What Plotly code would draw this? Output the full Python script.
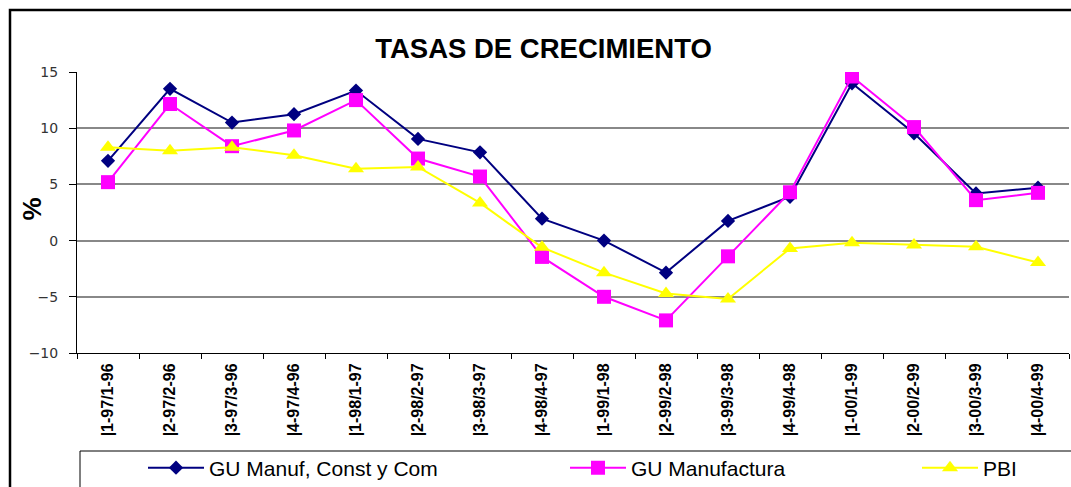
import plotly.graph_objects as go

categories = ["1-97/1-96", "2-97/2-96", "3-97/3-96", "4-97/4-96",
              "1-98/1-97", "2-98/2-97", "3-98/3-97", "4-98/4-97",
              "1-99/1-98", "2-99/2-98", "3-99/3-98", "4-99/4-98",
              "1-00/1-99", "2-00/2-99", "3-00/3-99", "4-00/4-99"]
tick_labels = ["|" + c for c in categories]

gu_manuf_const_com = [7.1, 13.5, 10.5, 11.25, 13.35, 9.05, 7.85, 1.95,
                      0.0, -2.85, 1.75, 3.9, 14.0, 9.55, 4.2, 4.7]
gu_manufactura = [5.2, 12.15, 8.4, 9.8, 12.5, 7.3, 5.7, -1.45,
                  -5.0, -7.1, -1.4, 4.3, 14.6, 10.1, 3.6, 4.25]
pbi = [8.3, 8.0, 8.3, 7.6, 6.4, 6.55, 3.35, -0.6,
       -2.85, -4.7, -5.2, -0.7, -0.2, -0.4, -0.55, -1.95]

series_names = ["GU Manuf, Const y Com", "GU Manufactura", "PBI"]

PL, PR, PT, PB = 77, 1069, 72, 353
W, H = 1071, 487


def px(x):
    return (x - PL) / (PR - PL)


def py(y):
    return (PB - y) / (PB - PT)


fig = go.Figure()
fig.add_trace(go.Scatter(
    x=categories, y=gu_manuf_const_com, name=series_names[0], mode="lines+markers",
    line=dict(color="#000080", width=2),
    marker=dict(symbol="diamond", size=11, color="#000080"),
    legend="legend2", showlegend=True))
fig.add_trace(go.Scatter(
    x=categories, y=gu_manufactura, name=series_names[1], mode="lines+markers",
    line=dict(color="#FF00FF", width=2),
    marker=dict(symbol="square", size=14, color="#FF00FF"),
    legend="legend3", showlegend=True))
fig.add_trace(go.Scatter(
    x=categories, y=pbi, name=series_names[2], mode="lines+markers",
    line=dict(color="#FFFF00", width=2),
    marker=dict(symbol="triangle-up", size=14, color="#FFFF00"),
    legend="legend4", showlegend=True))

legend_common = dict(orientation="h", yanchor="middle", xanchor="left",
                     y=py(468), itemwidth=56, bgcolor="rgba(0,0,0,0)",
                     font=dict(family="Liberation Sans", size=21, color="#000"))

fig.update_layout(
    width=W, height=H, showlegend=True,
    margin=dict(l=PL, r=W - PR, t=PT, b=H - PB, autoexpand=False),
    paper_bgcolor="white", plot_bgcolor="white",
    title=dict(text="<b>TASAS DE CRECIMIENTO</b>", x=543.5 / W, xanchor="center",
               y=1 - 48 / H, yanchor="middle",
               font=dict(family="Liberation Sans", size=27.5, color="#000")),
    legend2=dict(x=px(143), **legend_common),
    legend3=dict(x=px(565), **legend_common),
    legend4=dict(x=px(917), **legend_common),
    xaxis=dict(
        type="category", tickmode="array", tickvals=categories, ticktext=tick_labels,
        tickangle=-90, tickson="boundaries", ticks="outside", ticklen=5,
        tickcolor="#000", showline=True, linecolor="#000", linewidth=1,
        showgrid=False, range=[-0.5, len(categories) - 0.5],
        ticklabelstandoff=3,
        tickfont=dict(family="Liberation Sans", size=16, color="#000", weight="bold")),
    yaxis=dict(
        range=[-10, 15], dtick=5, tick0=0, ticks="outside", ticklen=7,
        tickcolor="#000", showline=True, linecolor="#000", linewidth=1,
        showgrid=True, gridcolor="#888", gridwidth=2, zeroline=False,
        ticklabelstandoff=8,
        tickfont=dict(family="DejaVu Sans", size=14, color="#333")),
    annotations=[dict(text="<b>%</b>", x=px(31), y=py(209.5), xref="paper", yref="paper",
                      xanchor="center", yanchor="middle",
                      showarrow=False, textangle=-90,
                      font=dict(family="Liberation Sans", size=26, color="#000"))],
    shapes=[
        dict(type="rect", xref="paper", yref="paper",
             x0=px(80), x1=px(1100), y0=py(451), y1=py(520),
             line=dict(color="#000", width=1), layer="below"),
        dict(type="rect", xref="paper", yref="paper",
             x0=px(10), x1=px(1100), y0=py(520), y1=py(10),
             line=dict(color="#000", width=2.5), layer="below"),
    ],
)

fig.write_html("out.html", config={"displayModeBar": False},
               post_script="document.body.style.margin='0';"
                           "document.body.style.overflow='hidden';")
